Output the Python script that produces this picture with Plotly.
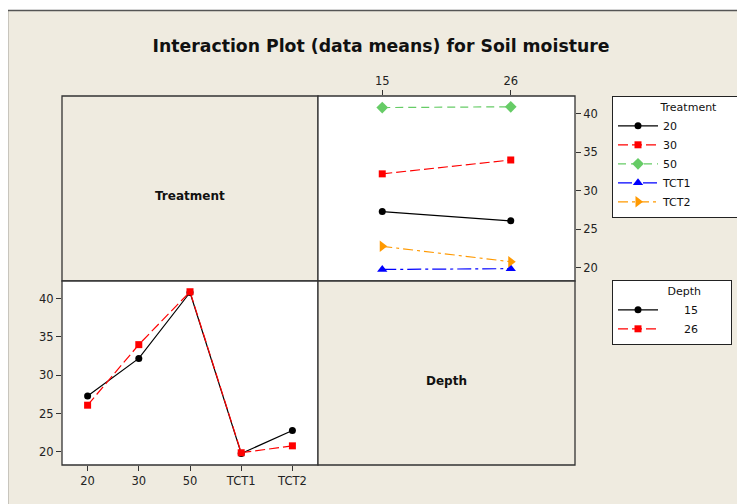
import plotly.graph_objects as go

# ---- data ----
treatments = ["20", "30", "50", "TCT1", "TCT2"]
depths = ["15", "26"]
means_depth15 = [27.3, 32.2, 40.8, 19.8, 22.8]
means_depth26 = [26.1, 34.0, 40.9, 19.9, 20.8]
y_ticks = [20, 25, 30, 35, 40]

means_by_depth = {"15": means_depth15, "26": means_depth26}

BEIGE = "#EFEBE0"
W, H = 745, 504
OFF = 8  # page body margin offset
# target screen pixel layout: panels x 62..575, y 96..465
L = 62 - OFF
T = 96 - OFF
R = W - (575 - OFF)
B = H - (465 - OFF)
PW, PH = W - L - R, H - T - B


def px(X):
    return (X - OFF - L) / PW


def py(Y):
    return (H - B - (Y - OFF)) / PH


xmid = px(318)
ymid = py(281)

fig = go.Figure()

tr_styles = {
    "20": dict(color="#000000", dash="solid", symbol="circle", size=7),
    "30": dict(color="#FF0000", dash="10px,4px", symbol="square", size=7),
    "50": dict(color="#66CC66", dash="8px,5px", symbol="diamond", size=9),
    "TCT1": dict(color="#0000FF", dash="14px,4px,3px,4px", symbol="triangle-up", size=9),
    "TCT2": dict(color="#FF9900", dash="10px,4px,3px,4px", symbol="triangle-right", size=10),
}

# top-right panel: treatment lines across depth
for i, t in enumerate(treatments):
    s = tr_styles[t]
    fig.add_trace(go.Scatter(
        x=list(range(len(depths))),
        y=[means_by_depth[d][i] for d in depths],
        mode="lines+markers", name=t,
        line=dict(color=s["color"], dash=s["dash"], width=1.2),
        marker=dict(color=s["color"], symbol=s["symbol"], size=s["size"]),
        xaxis="x2", yaxis="y2", legend="legend",
    ))

dp_styles = {
    "15": dict(color="#000000", dash="solid", symbol="circle", size=7),
    "26": dict(color="#FF0000", dash="10px,4px", symbol="square", size=7),
}
NB = "\u00a0"
for d in depths:
    s = dp_styles[d]
    fig.add_trace(go.Scatter(
        x=list(range(len(treatments))), y=means_by_depth[d],
        mode="lines+markers", name=NB * 6 + d,
        line=dict(color=s["color"], dash=s["dash"], width=1.2),
        marker=dict(color=s["color"], symbol=s["symbol"], size=s["size"]),
        xaxis="x", yaxis="y", legend="legend2",
    ))

shapes = []
# outer frame
shapes.append(dict(type="rect", xref="paper", yref="paper", layer="below",
                   x0=px(7.5), x1=px(770), y0=py(10.5), y1=py(530),
                   fillcolor=BEIGE, line=dict(color="#555555", width=1.5)))
# panels
panel_line = dict(color="#333333", width=1.3)
shapes.append(dict(type="rect", xref="paper", yref="paper", layer="below",
                   x0=0, x1=xmid, y0=ymid, y1=1, fillcolor=BEIGE, line=panel_line))
shapes.append(dict(type="rect", xref="paper", yref="paper", layer="below",
                   x0=xmid, x1=1, y0=ymid, y1=1, fillcolor="white", line=panel_line))
shapes.append(dict(type="rect", xref="paper", yref="paper", layer="below",
                   x0=0, x1=xmid, y0=0, y1=ymid, fillcolor="white", line=panel_line))
shapes.append(dict(type="rect", xref="paper", yref="paper", layer="below",
                   x0=xmid, x1=1, y0=0, y1=ymid, fillcolor=BEIGE, line=panel_line))

tick_font = dict(family="DejaVu Sans", size=11.5, color="#222222")
axis_common = dict(showgrid=False, zeroline=False, showline=False, ticks="outside",
                   ticklen=5, tickcolor="#333333", tickfont=tick_font, fixedrange=True)

legend_font = dict(family="DejaVu Sans", size=11, color="#111111")

fig.update_layout(
    width=W, height=H,
    margin=dict(l=L, r=R, t=T, b=B, autoexpand=False),
    paper_bgcolor="white", plot_bgcolor="rgba(0,0,0,0)",
    shapes=shapes,
    title=dict(text="<b>Interaction Plot (data means) for Soil moisture</b>",
               x=px(381), xanchor="center", xref="paper",
               y=1 - (46 - OFF) / H, yanchor="middle", yref="container",
               font=dict(family="DejaVu Sans", size=17.3, color="#111111")),
    xaxis=dict(domain=[0, xmid], range=[-0.5, 4.5], anchor="y",
               tickvals=list(range(len(treatments))), ticktext=treatments, **axis_common),
    yaxis=dict(domain=[0, ymid], range=[18.3, 42.3], anchor="x",
               tickvals=y_ticks, **axis_common),
    xaxis2=dict(domain=[xmid, 1], range=[-0.5, 1.5], anchor="y2", side="top",
                tickvals=list(range(len(depths))), ticktext=depths, **axis_common),
    yaxis2=dict(domain=[ymid, 1], range=[18.3, 42.3], anchor="x2", side="right",
                tickvals=y_ticks, **axis_common),
    legend=dict(x=px(612), y=py(96), xanchor="left", yanchor="top",
                bgcolor="white", bordercolor="#222222", borderwidth=1,
                font=legend_font,
                title=dict(text=NB * 13 + "Treatment" + NB * 8, font=legend_font),
                itemwidth=40, tracegroupgap=0),
    legend2=dict(x=px(612), y=py(280), xanchor="left", yanchor="top",
                 bgcolor="white", bordercolor="#222222", borderwidth=1,
                 font=legend_font,
                 title=dict(text=NB * 15 + "Depth" + NB * 8, font=legend_font),
                 itemwidth=40, tracegroupgap=0),
    annotations=[
        dict(text="<b>Treatment</b>", xref="paper", yref="paper",
             x=px(190), y=py(196), xanchor="center", yanchor="middle",
             showarrow=False, font=dict(family="DejaVu Sans", size=12, color="#111111")),
        dict(text="<b>Depth</b>", xref="paper", yref="paper",
             x=px(446), y=py(381), xanchor="center", yanchor="middle",
             showarrow=False, font=dict(family="DejaVu Sans", size=12, color="#111111")),
    ],
)

fig.write_html("out.html")
